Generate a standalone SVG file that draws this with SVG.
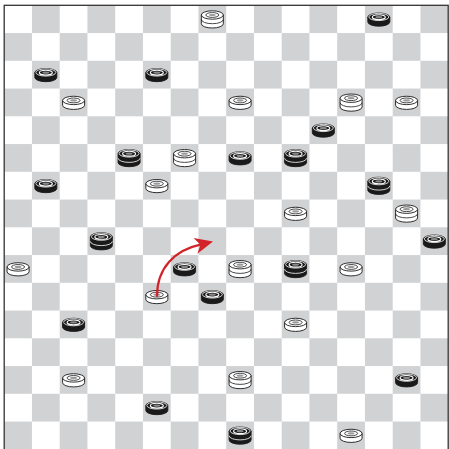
<svg xmlns="http://www.w3.org/2000/svg" xmlns:xlink="http://www.w3.org/1999/xlink" width="449" height="449" viewBox="0 0 449 449">
<style>
.wb{fill:#fff;stroke:#1a1a1a;stroke-width:0.9}
.wl{fill:none;stroke:#1a1a1a;stroke-width:0.8}
.bb{fill:#1a1a1a;stroke:#1a1a1a;stroke-width:0.9}
.bl{fill:none;stroke:#fff;stroke-width:0.8}
.arrow{fill:none;stroke:#d2232a;stroke-width:2.2;stroke-linecap:round}
</style>
<defs>
<pattern id="chk" patternUnits="userSpaceOnUse" x="4.2" y="5.3" width="55.5" height="55.5">
<rect x="0" y="0" width="55.5" height="55.5" fill="#fff"/>
<rect x="27.75" y="0" width="27.75" height="27.75" fill="#d1d2d4"/>
<rect x="0" y="27.75" width="27.75" height="27.75" fill="#d1d2d4"/>
</pattern>
<g id="w1">
<path class="wb" d="M-11,-2 L-11,2.8 A11 4.2 0 0 0 11,2.8 L11,-2 Z"/>
<ellipse class="wb" cx="0" cy="-2" rx="11" ry="4.2"/>
<ellipse class="wl" cx="0" cy="-2" rx="6.5" ry="2.4"/>
<ellipse cx="0" cy="-2" rx="3.4" ry="1.1" fill="#9a9a9a"/>
</g>
<g id="w2">
<path class="wb" d="M-11,-4.5 L-11,4.3 A11 4.2 0 0 0 11,4.3 L11,-4.5 Z"/>
<path class="wl" d="M-11,0 A11 4.2 0 0 0 11,0"/>
<ellipse class="wb" cx="0" cy="-4.5" rx="11" ry="4.2"/>
<ellipse class="wl" cx="0" cy="-4.5" rx="6.5" ry="2.4"/>
<ellipse cx="0" cy="-4.5" rx="3.4" ry="1.1" fill="#9a9a9a"/>
</g>
<g id="b1">
<path class="bb" d="M-11,-2 L-11,2.8 A11 4.2 0 0 0 11,2.8 L11,-2 Z"/>
<ellipse class="bb" cx="0" cy="-2" rx="11" ry="4.2"/>
<ellipse class="bl" cx="0" cy="-2.2" rx="10" ry="3.6"/>
<ellipse fill="none" stroke="#fff" stroke-width="1.1" cx="0" cy="-2" rx="6.5" ry="2.4"/>
<ellipse cx="0" cy="-2" rx="3.4" ry="1.1" fill="#8a8a8a"/>
</g>
<g id="b2">
<path class="bb" d="M-11,-4.5 L-11,4.3 A11 4.2 0 0 0 11,4.3 L11,-4.5 Z"/>
<path class="bl" d="M-11,0 A11 4.2 0 0 0 11,0"/>
<ellipse class="bb" cx="0" cy="-4.5" rx="11" ry="4.2"/>
<ellipse class="bl" cx="0" cy="-4.7" rx="10" ry="3.6"/>
<ellipse fill="none" stroke="#fff" stroke-width="1.1" cx="0" cy="-4.5" rx="6.5" ry="2.4"/>
<ellipse cx="0" cy="-4.5" rx="3.4" ry="1.1" fill="#8a8a8a"/>
</g>
</defs>
<g id="board">
<rect x="4.2" y="5.3" width="444" height="444" fill="url(#chk)"/>
<rect x="4.2" y="5.3" width="444" height="450" fill="none" stroke="#333" stroke-width="1.3"/>
</g>
<g id="pieces">
<g id="r0c7"><use xlink:href="#w2" href="#w2" transform="translate(212.33,19.5)"/></g>
<g id="r0c13"><use xlink:href="#b1" href="#b1" transform="translate(378.83,19.18)"/></g>
<g id="r2c1"><use xlink:href="#b1" href="#b1" transform="translate(45.83,74.68)"/></g>
<g id="r2c5"><use xlink:href="#b1" href="#b1" transform="translate(156.83,74.68)"/></g>
<g id="r3c2"><use xlink:href="#w1" href="#w1" transform="translate(73.58,102.43)"/></g>
<g id="r3c8"><use xlink:href="#w1" href="#w1" transform="translate(240.08,102.43)"/></g>
<g id="r3c12"><use xlink:href="#w2" href="#w2" transform="translate(351.08,102.7)"/></g>
<g id="r3c14"><use xlink:href="#w1" href="#w1" transform="translate(406.58,102.43)"/></g>
<g id="r4c11"><use xlink:href="#b1" href="#b1" transform="translate(323.33,130.18)"/></g>
<g id="r5c4"><use xlink:href="#b2" href="#b2" transform="translate(129.08,158.2)"/></g>
<g id="r5c6"><use xlink:href="#w2" href="#w2" transform="translate(184.58,158.2)"/></g>
<g id="r5c8"><use xlink:href="#b1" href="#b1" transform="translate(240.08,157.93)"/></g>
<g id="r5c10"><use xlink:href="#b2" href="#b2" transform="translate(295.58,158.2)"/></g>
<g id="r6c1"><use xlink:href="#b1" href="#b1" transform="translate(45.83,185.68)"/></g>
<g id="r6c5"><use xlink:href="#w1" href="#w1" transform="translate(156.83,185.68)"/></g>
<g id="r6c13"><use xlink:href="#b2" href="#b2" transform="translate(378.83,185.9)"/></g>
<g id="r7c10"><use xlink:href="#w1" href="#w1" transform="translate(295.58,213.43)"/></g>
<g id="r7c14"><use xlink:href="#w2" href="#w2" transform="translate(406.58,213.7)"/></g>
<g id="r8c3"><use xlink:href="#b2" href="#b2" transform="translate(101.33,241.4)"/></g>
<g id="r8c15"><use xlink:href="#b1" href="#b1" transform="translate(434.33,241.18)"/></g>
<g id="r9c0"><use xlink:href="#w1" href="#w1" transform="translate(18.08,268.93)"/></g>
<g id="r9c6"><use xlink:href="#b1" href="#b1" transform="translate(184.58,268.93)"/></g>
<g id="r9c8"><use xlink:href="#w2" href="#w2" transform="translate(240.08,269.2)"/></g>
<g id="r9c10"><use xlink:href="#b2" href="#b2" transform="translate(295.58,269.2)"/></g>
<g id="r9c12"><use xlink:href="#w1" href="#w1" transform="translate(351.08,268.93)"/></g>
<g id="r10c5"><use xlink:href="#w1" href="#w1" transform="translate(156.83,296.68)"/></g>
<g id="r10c7"><use xlink:href="#b1" href="#b1" transform="translate(212.33,296.68)"/></g>
<g id="r11c2"><use xlink:href="#b1" href="#b1" transform="translate(73.58,324.43)"/></g>
<g id="r11c10"><use xlink:href="#w1" href="#w1" transform="translate(295.58,324.43)"/></g>
<g id="r13c2"><use xlink:href="#w1" href="#w1" transform="translate(73.58,379.93)"/></g>
<g id="r13c8"><use xlink:href="#w2" href="#w2" transform="translate(240.08,380.2)"/></g>
<g id="r13c14"><use xlink:href="#b1" href="#b1" transform="translate(406.58,379.93)"/></g>
<g id="r14c5"><use xlink:href="#b1" href="#b1" transform="translate(156.83,407.68)"/></g>
<g id="r15c8"><use xlink:href="#b2" href="#b2" transform="translate(240.08,435.7)"/></g>
<g id="r15c12"><use xlink:href="#w1" href="#w1" transform="translate(351.08,435.43)"/></g>
</g>
<g id="connectors">
<path class="arrow" d="M157,296 C157,268 175,250 200.4,244.7"/>
<polygon fill="#d2232a" points="213,241.5 193.6,238.1 200.4,244.7 197.4,253.7"/>
</g>
</svg>
